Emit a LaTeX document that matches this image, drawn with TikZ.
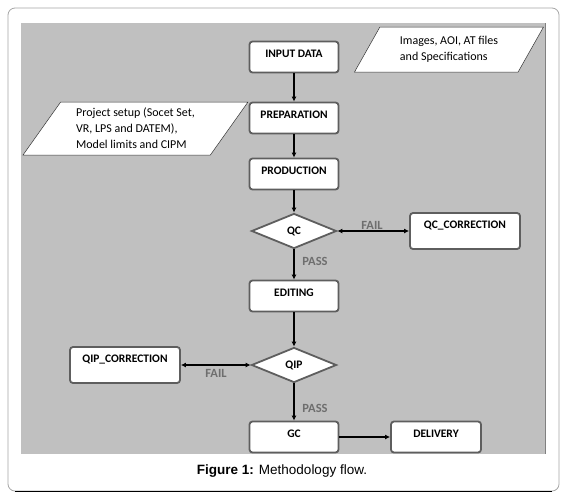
\documentclass[tikz,border=0pt]{standalone}
\usepackage{fontspec}
\setmainfont{Carlito}
\newfontfamily\capfont{Liberation Sans}
\usetikzlibrary{positioning,arrows.meta,shapes.geometric}
\definecolor{panelgrey}{HTML}{C0C0C0}
\definecolor{edgegrey}{HTML}{5E5E5E}
\definecolor{labgrey}{HTML}{6E6E6E}
\definecolor{framegrey}{HTML}{A6A6A6}
\tikzset{
  mf/.style={align=center, font=\fontsize{11.5}{13}\selectfont\bfseries, inner sep=2pt},
  mf step/.style={mf, rectangle, rounded corners=3pt, draw=edgegrey, line width=1.8pt, fill=white,
                  minimum width=89pt, minimum height=31pt, text depth=6pt},
  mf corr/.style={mf step, minimum width=110pt, minimum height=36pt, text depth=12pt},
  mf dec/.style={mf, diamond, draw=edgegrey, line width=1.8pt, fill=white,
                 minimum width=85pt, minimum height=35pt, inner sep=0pt},
  mf io/.style={trapezium, trapezium left angle=50, trapezium right angle=130, trapezium stretches body,
                draw=black!80, line width=0.5pt, fill=white, align=left,
                font=\fontsize{12}{16}\selectfont, inner sep=2pt},
  mf arr/.style={-{Latex[length=5pt,width=5pt]}, line width=1.1pt, black},
  mf both/.style={{Latex[length=5pt,width=5pt]}-{Latex[length=5pt,width=5pt]}, line width=1.1pt, black},
  mf tag/.style={font=\fontsize{12.5}{14}\selectfont\bfseries, text=labgrey, inner sep=1pt},
}
\begin{document}
\begin{tikzpicture}[x=1pt, y=-1pt]
  % page, frame and grey panel
  \useasboundingbox (0,0) rectangle (564,496);
  \fill[white] (0,0) rectangle (564,496);
  \draw[framegrey, line width=0.8pt, rounded corners=7pt] (8,8) rectangle (559,491);
  \draw[black, line width=0.8pt] (15,491) -- (552,491);
  \fill[panelgrey] (21,23) rectangle (545,454);
  \draw[black!50, line width=1pt] (545,23) -- (545,454);
  % main column
  \node[mf step] (indata) at (294,57) {INPUT DATA};
  \node[mf step] (prep) at (294,118) {PREPARATION};
  \node[mf step] (prod) at (294,174) {PRODUCTION};
  \node[mf dec] (qc) at (294,231) {QC};
  \node[mf step] (edit) at (294,296) {EDITING};
  \node[mf dec] (qip) at (294,365) {QIP};
  \node[mf step] (gc) at (294,437) {GC};
  \node[mf step, minimum width=90pt] (deliv) at (436,437) {DELIVERY};
  % corrections
  \node[mf corr] (qccorr) at (465,231) {QC\_CORRECTION};
  \node[mf corr] (qipcorr) at (125,365) {QIP\_CORRECTION};
  % inputs
  \node[mf io, minimum width=189pt, minimum height=45pt] (src) at (449,49.5) {Images, AOI, AT files\\and Specifications};
  \node[mf io, minimum width=225pt, minimum height=53pt] (setup) at (135.5,128.5) {Project setup (Socet Set,\\VR, LPS and DATEM),\\Model limits and CIPM};
  % connectors
  \foreach \a/\b in {indata/prep, prep/prod, prod/qc, qc/edit, edit/qip, qip/gc, gc/deliv}
    \draw[mf arr] (\a) -- (\b);
  \draw[mf both] (qc) -- (qccorr);
  \draw[mf both] (qipcorr) -- (qip);
  \node[mf tag] (failqc) at (372,225) {FAIL};
  \node[mf tag] (passqc) at (315,261) {PASS};
  \node[mf tag] (failqip) at (216,373) {FAIL};
  \node[mf tag] (passqip) at (315,408) {PASS};
  % caption
  \node[font=\capfont\fontsize{13.5}{15}\selectfont] (cap) at (282,471) {\textbf{Figure 1:} Methodology flow.};
\end{tikzpicture}
\end{document}
